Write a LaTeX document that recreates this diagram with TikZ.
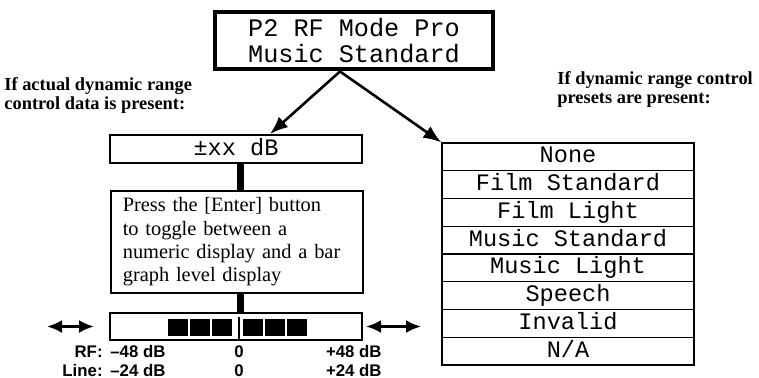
\documentclass[tikz,border=0pt]{standalone}
\usepackage{fontspec}
\setmainfont{Liberation Serif}
\newfontfamily\dispfont{Liberation Mono}
\newfontfamily\meterfont{Liberation Sans}
\usetikzlibrary{arrows.meta}

\begin{document}
\begin{tikzpicture}[x=0.5pt,y=-0.5pt,
    lcd/.style={draw,line width=0.6pt,minimum width=126pt,minimum height=13.875pt,text height=8.3pt,text depth=2.3pt,inner sep=0pt,font=\dispfont\fontsize{11.8}{13}\selectfont},
    note/.style={font=\bfseries\fontsize{9.2}{9.4}\selectfont,align=left,anchor=north west,inner sep=0pt},
    pointer/.style={-{Latex[length=9pt,width=7pt]},line width=1.3pt},
    stem/.style={line width=3.5pt},
    slide/.style={{Latex[length=7.5pt,width=6.5pt]}-{Latex[length=7.5pt,width=6.5pt]},line width=1.3pt},
    scalelab/.style={font=\meterfont\bfseries\fontsize{8.4}{9}\selectfont,inner sep=0pt}]
      \useasboundingbox (0,0) rectangle (759,377);
      \node[draw,line width=2pt,minimum width=139pt,minimum height=27.5pt,align=center,font=\dispfont\fontsize{12.6}{13}\selectfont] (mode) at (354,40.5) {P2 RF Mode Pro\\Music Standard};
      \node[note] (datanote) at (4,77) {If actual dynamic range\\control data is present:};
      \node[note] (presetnote) at (557,71) {If dynamic range control\\presets are present:};
      \node[lcd,line width=1pt,minimum height=14pt] (level) at (236,149) {±xx dB};
      \node[draw,line width=0.8pt,anchor=north west,minimum width=126pt,minimum height=49pt,text width=114pt,inner xsep=6pt,align=left,font=\fontsize{10.2}{11.7}\selectfont] (press) at (110,190) {Press the [Enter] button\\to toggle between a\\numeric display and a bar\\graph level display};
      \node[draw,line width=1pt,minimum width=126pt,minimum height=13.5pt,inner sep=0pt] (bar) at (236,326.5) {};
      \draw[stem] ([xshift=2pt]level.south) -- ([xshift=2pt]level.south |- press.north);
      \draw[stem] ([xshift=2pt]level.south |- press.south) -- ([xshift=2pt]level.south |- bar.north);
      \foreach \x in {168,190,212,243,265,287}
        \fill (\x,319) rectangle ++(20,17);
      \draw[line width=0.6pt] (239,317) -- (239,339);
      \draw[slide] ([xshift=-31pt]bar.west) -- ([xshift=-7.5pt]bar.west);
      \draw[slide] ([xshift=1.5pt]bar.east) -- ([xshift=29pt]bar.east);
      \foreach \lab/\lo/\hi/\y [count=\i] in {RF:/48/48/357.5, Line:/24/24/376} {
        \node[scalelab,anchor=base east] (lab\i) at (103,\y) {\lab};
        \node[scalelab,anchor=base west] (min\i) at (110,\y) {–\lo\ dB};
        \node[scalelab,anchor=base] (zero\i) at (239,\y) {0};
        \node[scalelab,anchor=base east] (max\i) at (382,\y) {+\hi\ dB};
      }
      \foreach \item [count=\i] in {None,Film Standard,Film Light,Music Standard,Music Light,Speech,Invalid,N/A}
        \node[lcd] (row\i) at (568,{143+27.75*(\i-0.5)}) {\item};
      \draw[pointer] ([xshift=-7pt]mode.south) -- ([xshift=17pt]level.north);
      \draw[pointer] ([xshift=-7pt]mode.south) -- (row1.north west);
\end{tikzpicture}
\end{document}
